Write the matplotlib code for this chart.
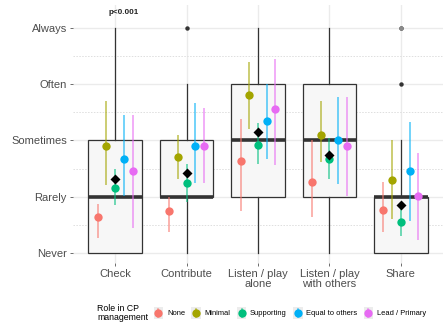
import numpy as np
import matplotlib
matplotlib.use("Agg")
import matplotlib.pyplot as plt
from matplotlib.lines import Line2D
from matplotlib.patches import Rectangle

plt.rcParams['font.family'] = ['Liberation Sans', 'DejaVu Sans']

categories = ["Check", "Contribute", "Listen / play\nalone", "Listen / play\nwith others", "Share"]
levels = ["Never", "Rarely", "Sometimes", "Often", "Always"]
roles = ["None", "Minimal", "Supporting", "Equal to others", "Lead / Primary"]
role_colors = ["#F8766D", "#A3A500", "#00BF7D", "#00B0F6", "#E76BF3"]

# boxplot stats (1 = Never ... 5 = Always)
box_lo = [1, 1, 1, 1, 1]
box_q1 = [1, 2, 2, 2, 1]
box_med = [2, 2, 3, 3, 2]
box_q3 = [3, 3, 4, 4, 2]
box_hi = [5, 4, 5, 5, 3]
outliers = [[], [5], [], [], [4, 5]]

# mean and interval per role
none_mean = [1.63, 1.75, 2.63, 2.26, 1.76]
none_lo = [1.26, 1.38, 1.75, 1.63, 1.38]
none_hi = [1.87, 2.00, 3.38, 3.00, 2.26]

minimal_mean = [2.91, 2.71, 3.80, 3.10, 2.30]
minimal_lo = [2.21, 2.31, 3.21, 2.61, 1.60]
minimal_hi = [3.71, 3.10, 4.40, 3.70, 3.00]

supporting_mean = [2.16, 2.25, 2.92, 2.67, 1.55]
supporting_lo = [1.85, 1.91, 2.59, 2.31, 1.30]
supporting_hi = [2.49, 2.58, 3.31, 3.04, 1.84]

equal_mean = [2.67, 2.90, 3.34, 3.01, 2.45]
equal_lo = [2.01, 2.24, 2.67, 2.23, 1.56]
equal_hi = [3.45, 3.67, 4.00, 3.78, 3.33]

lead_mean = [2.45, 2.90, 3.56, 2.90, 2.01]
lead_lo = [1.45, 2.24, 2.56, 2.01, 1.23]
lead_hi = [3.45, 3.57, 4.45, 3.78, 2.78]

overall_mean = [2.31, 2.43, 3.15, 2.75, 1.86]

means = [none_mean, minimal_mean, supporting_mean, equal_mean, lead_mean]
lows = [none_lo, minimal_lo, supporting_lo, equal_lo, lead_lo]
highs = [none_hi, minimal_hi, supporting_hi, equal_hi, lead_hi]


class KeyHandler:
    # grey key square with a vertical bar and a dot, like the ggplot legend
    def legend_artist(self, legend, orig_handle, fontsize, handlebox):
        x0, y0 = -handlebox.xdescent, -handlebox.ydescent
        w, h = handlebox.width, handlebox.height
        c = orig_handle.get_color()
        tr = handlebox.get_transform()
        cx, cy = x0 + w / 2, y0 + h / 2
        bg = Rectangle((x0, y0), w, h, facecolor='#ececec', edgecolor='none', transform=tr)
        ln = Line2D([cx, cx], [y0 + 0.15 * h, y0 + 0.85 * h], color=c, lw=1.1, alpha=0.7,
                    transform=tr)
        pt = Line2D([cx], [cy], marker='o', ms=6, color=c, mec='none', transform=tr)
        for a in (bg, ln, pt):
            handlebox.add_artist(a)
        return bg


fig = plt.figure(figsize=(4.44, 3.28), dpi=100)
ax = fig.add_axes([73 / 444, 1 - 263 / 328, 370 / 444, 258 / 328])

x = np.arange(1, len(categories) + 1)

# grid
ax.set_yticks(range(1, 6))
ax.set_yticks(np.arange(1.5, 5, 1), minor=True)
ax.grid(axis='y', which='major', color='#ebebeb', lw=1.0, zorder=0)
ax.grid(axis='y', which='minor', color='#dedede', lw=0.7, ls=(0, (1.5, 1.5)), zorder=0)
ax.grid(axis='x', which='major', color='#ebebeb', lw=1.0, zorder=0)

stats = []
for i in range(len(categories)):
    stats.append(dict(whislo=box_lo[i], q1=box_q1[i], med=box_med[i], q3=box_q3[i],
                      whishi=box_hi[i], fliers=outliers[i]))
ax.bxp(stats, positions=x, widths=0.75, patch_artist=True, showcaps=False,
       boxprops=dict(facecolor='#f7f7f7', edgecolor='#333333', lw=0.9),
       medianprops=dict(color='#333333', lw=2.6),
       whiskerprops=dict(color='#333333', lw=0.9),
       flierprops=dict(marker='o', markersize=3.2, markerfacecolor='#333333',
                       markeredgecolor='none'),
       zorder=2)
# lighter outlier at Share / Always
ax.plot(5, 5, 'o', ms=3.2, color='#8a8a8a', mec='none', zorder=3)

offsets = np.arange(-2, 3) * 0.122
for j in range(len(roles)):
    xs = x + offsets[j]
    ax.vlines(xs, lows[j], highs[j], color=role_colors[j], lw=1.1, alpha=0.7, zorder=4)
    ax.plot(xs, means[j], 'o', color=role_colors[j], ms=6, mec='none', zorder=5)

ax.plot(x, overall_mean, 'D', color='black', ms=4.8, mec='none', zorder=6)

ax.text(1.12, 5.27, "p<0.001", fontsize=5.8, color='#222222', ha='center', va='center',
        fontweight='bold')

ax.set_xlim(0.41, 5.59)
ax.set_ylim(0.82, 5.41)
ax.set_xticks(x)
ax.set_xticklabels(categories, fontsize=8, color='#4d4d4d', linespacing=1.0)
ax.set_yticklabels(levels, fontsize=8, color='#4d4d4d')
ax.tick_params(axis='both', which='major', length=2.5, width=0.6, color='#555555', pad=2)
ax.tick_params(axis='y', which='minor', length=0)
for s in ax.spines.values():
    s.set_visible(False)
ax.set_facecolor('white')

# legend
fig.text(97 / 444, 1 - 313 / 328, "Role in CP\nmanagement", fontsize=6.3, color='black',
         ha='left', va='center', linespacing=1.0)
handles = [Line2D([], [], color=c) for c in role_colors]
fig.legend(handles, roles, handler_map={Line2D: KeyHandler()},
           loc='center left', bbox_to_anchor=(150 / 444, 1 - 313 / 328), ncol=5,
           frameon=False, fontsize=5.4, handlelength=1.25, handleheight=1.9,
           handletextpad=0.5, columnspacing=0.85, borderpad=0)

fig.savefig("out.png", dpi=100)
